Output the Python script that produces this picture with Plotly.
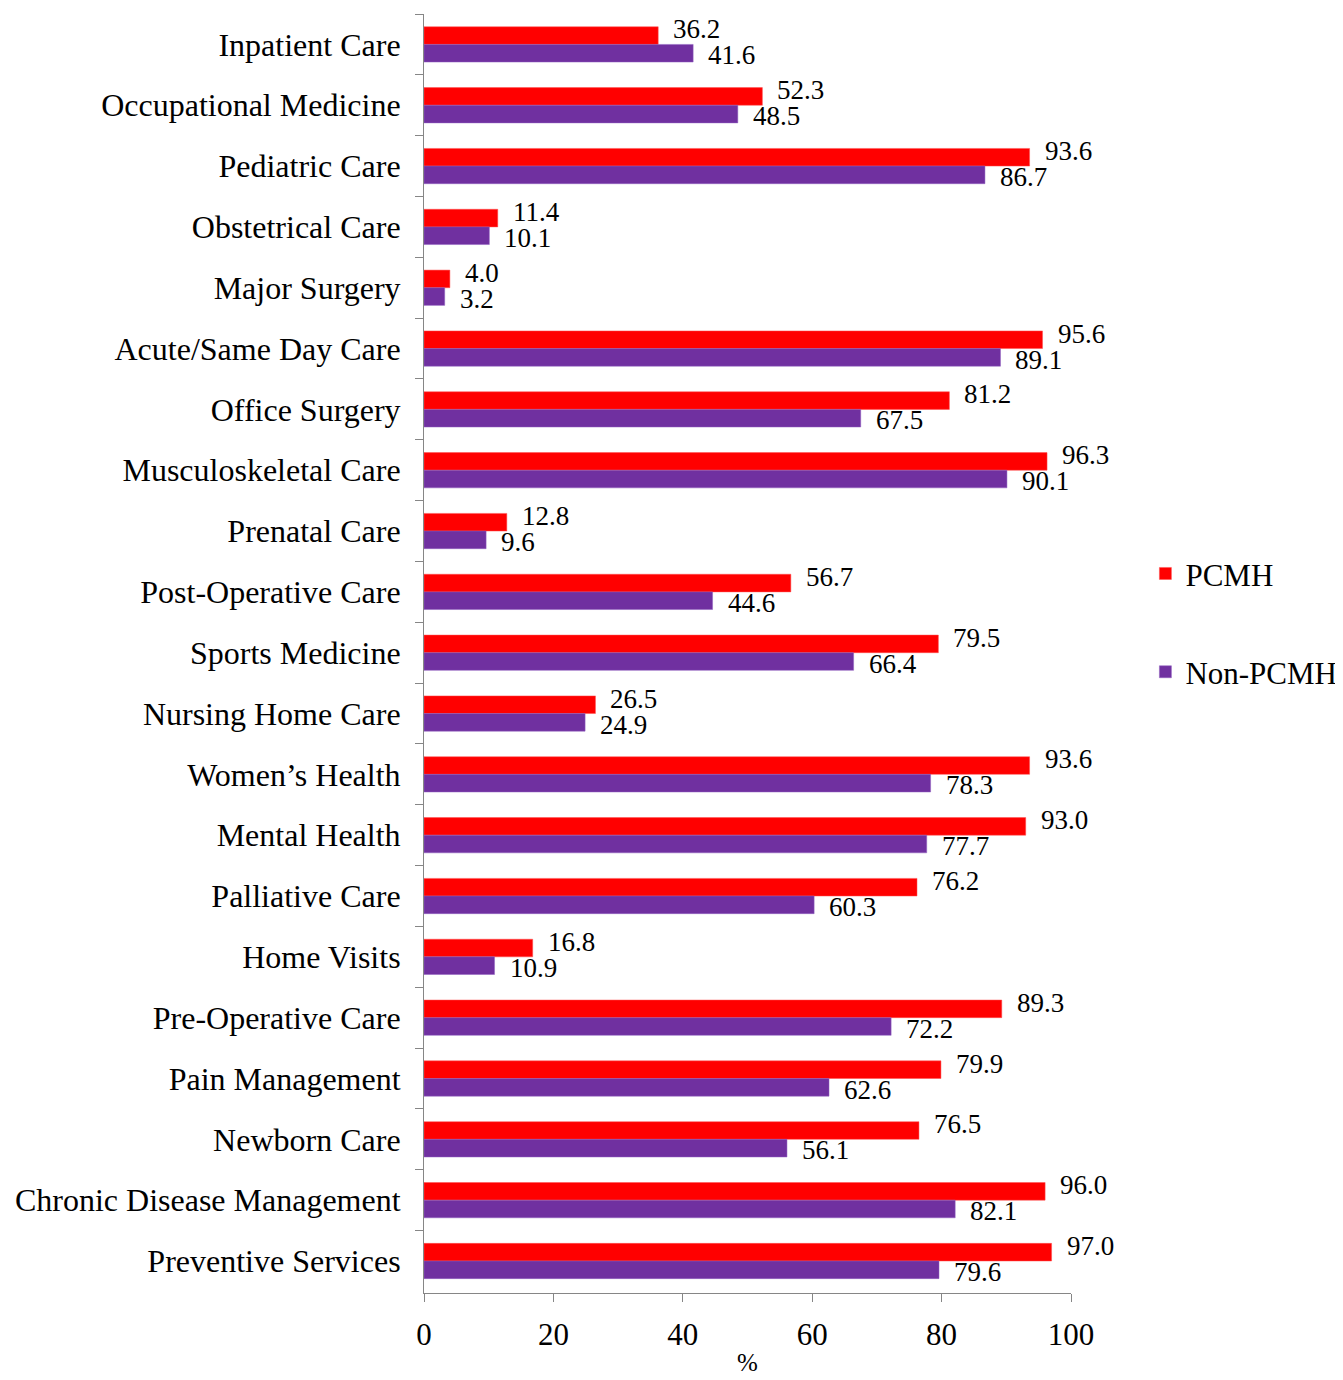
import plotly.graph_objects as go

categories = ["Inpatient Care", "Occupational Medicine", "Pediatric Care", "Obstetrical Care",
              "Major Surgery", "Acute/Same Day Care", "Office Surgery", "Musculoskeletal Care",
              "Prenatal Care", "Post-Operative Care", "Sports Medicine", "Nursing Home Care",
              "Women\u2019s Health", "Mental Health", "Palliative Care", "Home Visits",
              "Pre-Operative Care", "Pain Management", "Newborn Care",
              "Chronic Disease Management", "Preventive Services"]
pcmh = [36.2, 52.3, 93.6, 11.4, 4.0, 95.6, 81.2, 96.3, 12.8, 56.7, 79.5, 26.5,
        93.6, 93.0, 76.2, 16.8, 89.3, 79.9, 76.5, 96.0, 97.0]
non_pcmh = [41.6, 48.5, 86.7, 10.1, 3.2, 89.1, 67.5, 90.1, 9.6, 44.6, 66.4, 24.9,
            78.3, 77.7, 60.3, 10.9, 72.2, 62.6, 56.1, 82.1, 79.6]
x_ticks = [0, 20, 40, 60, 80, 100]

FONT = "Liberation Serif, Times New Roman, serif"
RED = "#FF0000"
PURPLE = "#7030A0"
AXIS = "#868686"

fig = go.Figure()
fig.add_trace(go.Bar(y=categories, x=pcmh, orientation="h", name="PCMH",
                     marker=dict(color=RED, line=dict(color="#FF5050", width=0.5)),
                     legendgroup="a"))
fig.add_trace(go.Bar(y=categories, x=non_pcmh, orientation="h", name="Non-PCMH",
                     marker=dict(color=PURPLE, line=dict(color="#9060C0", width=0.5)),
                     legendgroup="b"))

annotations = []
for cat, v in zip(categories, pcmh):
    annotations.append(dict(x=v, y=cat, xref="x", yref="y", text=f"{v:.1f}", showarrow=False,
                            xanchor="left", yanchor="middle", xshift=13, yshift=15,
                            font=dict(family=FONT, size=27, color="black")))
for cat, v in zip(categories, non_pcmh):
    annotations.append(dict(x=v, y=cat, xref="x", yref="y", text=f"{v:.1f}", showarrow=False,
                            xanchor="left", yanchor="middle", xshift=13, yshift=-11,
                            font=dict(family=FONT, size=27, color="black")))

fig.update_layout(
    width=1343, height=1380,
    margin=dict(l=416, r=280, t=6, b=95),
    paper_bgcolor="white", plot_bgcolor="white",
    barmode="group", bargap=0.42, bargroupgap=0,
    font=dict(family=FONT, color="black"),
    annotations=annotations,
    legend=dict(x=1.115, xanchor="left", y=0.524, yanchor="middle",
                font=dict(family=FONT, size=31), tracegroupgap=55,
                bgcolor="rgba(0,0,0,0)"),
    xaxis=dict(range=[0, 100], tickvals=x_ticks, ticktext=[str(t) for t in x_ticks],
               showgrid=False, zeroline=False, showline=True, linecolor=AXIS, linewidth=1,
               ticks="outside", ticklen=8, tickcolor=AXIS,
               tickfont=dict(family=FONT, size=31), ticklabelstandoff=6,
               title=dict(text="%", font=dict(family=FONT, size=25), standoff=2)),
    yaxis=dict(autorange="reversed", type="category", showgrid=False, zeroline=False,
               showline=True, linecolor=AXIS, linewidth=1,
               ticks="outside", ticklen=8, tickcolor=AXIS, tickson="boundaries",
               tickfont=dict(family=FONT, size=32), ticklabelstandoff=16),
)

fig.write_html("out.html")
